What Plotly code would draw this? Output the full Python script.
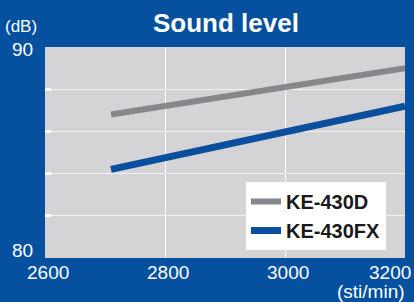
import plotly.graph_objects as go

speed = [2710, 3200]
ke430d = [86.8, 89.0]
ke430fx = [84.2, 87.2]
series_names = ["KE-430D", "KE-430FX"]
x_ticks = [2600, 2800, 3000, 3200]
y_grid = [80, 82, 84, 86, 88, 90]
y_labels = [80, 90]

BG = "#0650a0"
PLOT_BG = "#d4d4d6"
FONT = "Liberation Sans Narrow, Arial Narrow, Liberation Sans, Arial, sans-serif"

fig = go.Figure()
fig.add_trace(go.Scatter(x=speed, y=ke430d, mode="lines", name=series_names[0],
                         line=dict(color="#87878b", width=6)))
fig.add_trace(go.Scatter(x=speed, y=ke430fx, mode="lines", name=series_names[1],
                         line=dict(color="#0a4e9e", width=7)))

L, R, T, B = 45, 9, 47, 44
H = 302 - T - B

def py(px):
    return (302 - B - px) / H

TICK = dict(size=19, color="white", family=FONT)
ann = []
# x tick labels
for v in x_ticks:
    if v == x_ticks[-1]:
        ann.append(dict(x=v, y=py(272), xref="x", yref="paper", text=str(v),
                        xanchor="right", yanchor="middle", xshift=8, showarrow=False,
                        font=TICK))
    else:
        ann.append(dict(x=v, y=py(272), xref="x", yref="paper", text=str(v),
                        xanchor="center", yanchor="middle", xshift=3, showarrow=False,
                        font=TICK))
# y labels
ann.append(dict(x=0, y=py(49), xref="paper", yref="paper", text=str(y_labels[1]),
                xanchor="right", yanchor="middle", xshift=-10, showarrow=False,
                font=TICK))
ann.append(dict(x=0, y=py(250), xref="paper", yref="paper", text=str(y_labels[0]),
                xanchor="right", yanchor="middle", xshift=-10, showarrow=False,
                font=TICK))
# units
ann.append(dict(x=0, y=py(27), xref="paper", yref="paper", text="(dB)",
                xanchor="right", yanchor="middle", xshift=-6, showarrow=False,
                font=dict(size=17, color="white", family=FONT)))
ann.append(dict(x=1, y=py(291), xref="paper", yref="paper", text="(sti/min)",
                xanchor="right", yanchor="middle", xshift=2, showarrow=False,
                font=dict(size=19, color="white", family=FONT)))
# title
ann.append(dict(x=(226 - L) / 360, y=py(23), xref="paper", yref="paper",
                text="<b>Sound level</b>", xanchor="center", yanchor="middle",
                showarrow=False, font=dict(size=26, color="white", family=FONT)))

fig.update_layout(
    width=414, height=302,
    margin=dict(l=L, r=R, t=T, b=B),
    paper_bgcolor=BG, plot_bgcolor=PLOT_BG,
    showlegend=True,
    legend=dict(x=(246 - L) / 360, y=py(250), xanchor="left", yanchor="bottom",
                bgcolor="white", borderwidth=0,
                font=dict(size=20, color="#1a1a1a", family=FONT, weight="bold"),
                itemwidth=30, tracegroupgap=0),
    annotations=ann,
)
fig.update_xaxes(range=[2600, 3200], tickvals=x_ticks, showticklabels=False,
                 showgrid=True, gridcolor="white", gridwidth=1, zeroline=False,
                 ticks="")
fig.update_yaxes(range=[80, 90], tickvals=y_grid, showticklabels=False,
                 showgrid=True, gridcolor="#f2f2f2", gridwidth=1, zeroline=False,
                 ticks="inside", ticklen=6, tickwidth=3, tickcolor="white")

fig.write_html("out.html", config={"displayModeBar": False},
               post_script="document.body.style.margin='0';"
                           "document.body.style.background='#0650a0';")
